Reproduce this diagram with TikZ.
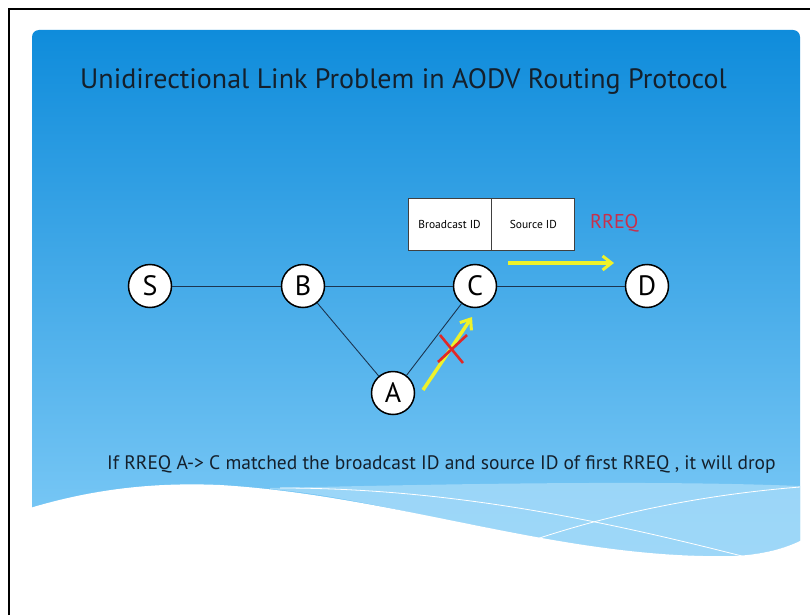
\documentclass[tikz,border=0pt]{standalone}
\usepackage{fontspec}
\setmainfont{PT Sans}
\usetikzlibrary{arrows.meta}
\definecolor{navy}{HTML}{1C3550}
\definecolor{topblue}{HTML}{0F8CDB}
\definecolor{botblue}{HTML}{84CEF8}
\definecolor{bandblue}{HTML}{A6DBF9}
\definecolor{arrowyellow}{HTML}{EEF22A}
\definecolor{xred}{HTML}{E02828}
\definecolor{rreqred}{HTML}{C8304C}
\definecolor{inktext}{HTML}{14202C}
\tikzset{
  netnode/.style={circle,draw=black,line width=1.5pt,fill=white,minimum size=43pt,inner sep=0pt,font=\fontsize{28}{28}\selectfont},
  link/.style={draw=navy,line width=0.9pt},
  fieldbox/.style={draw=black!75,line width=0.8pt,fill=white,minimum height=52pt,inner sep=0pt,font=\fontsize{11.5}{11.5}\selectfont},
  moveArrow/.style={draw=arrowyellow,line width=3.5pt,-{Straight Barb[length=9pt,width=14pt,line width=3pt]}},
  crossline/.style={draw=xred,line width=2.6pt}
}
\begin{document}
\begin{tikzpicture}[x=1pt,y=-1pt]
\useasboundingbox (0,0) rectangle (810,615);
\fill[white] (0,0) rectangle (810,615);
% slide background
\shade[top color=topblue,bottom color=botblue,rounded corners=7pt] (32,30) rectangle (800,575);
% light band
\fill[bandblue,opacity=0.8] (270,488) .. controls (450,484) and (650,480) .. (800,486) -- (800,541)
  .. controls (790,546) and (770,554) .. (735,556) .. controls (560,560) and (400,500) .. (270,489) -- cycle;
% white wave
\fill[white] (30,508) .. controls (90,490) and (150,482) .. (220,485)
  .. controls (400,496) and (560,560) .. (735,556)
  .. controls (770,554) and (790,546) .. (802,540) -- (802,615) -- (30,615) -- cycle;
% thin white lines
\draw[white,line width=0.8pt] (505,550) .. controls (600,515) and (700,495) .. (800,487);
\draw[white,line width=0.8pt] (280,488) .. controls (450,488) and (600,520) .. (742,556);
% frame
\draw[black,line width=2pt] (9,615) -- (9,9) -- (810,9);
% title
\node[font=\fontsize{28}{28}\selectfont,text=inktext,anchor=west,inner sep=0pt] (title) at (80,82) {Unidirectional Link Problem in AODV Routing Protocol};
% nodes
\node[netnode] (S) at (150,286) {S};
\node[netnode] (B) at (303,286) {B};
\node[netnode] (C) at (475,286) {C};
\node[netnode] (D) at (647,286) {D};
\node[netnode] (A) at (393,393) {A};
\draw[link] (S) -- (B);
\draw[link] (B) -- (C);
\draw[link] (C) -- (D);
\draw[link] (B) -- (A);
\draw[link] (A) -- (C);
% packet box
\node[fieldbox,minimum width=83pt] (bid) at (449.5,224) {Broadcast ID};
\node[fieldbox,minimum width=83pt,anchor=west] (sid) at (bid.east) {Source ID};
\node[text=rreqred,font=\fontsize{20}{20}\selectfont,anchor=west,inner sep=0pt] (rreq) at (590,223) {RREQ};
% arrows
\coordinate (a1s) at (508,263);
\coordinate (a1e) at (614,263);
\draw[moveArrow] (a1s) -- (a1e);
\coordinate (a2s) at (423,390);
\coordinate (a2e) at (472,317);
\draw[moveArrow] (a2s) -- (a2e);
% red cross
\coordinate (x1) at (440,335);
\coordinate (x2) at (463,363);
\coordinate (x3) at (438,362);
\coordinate (x4) at (467,335);
\draw[crossline] (x1) -- (x2);
\draw[crossline] (x3) -- (x4);
% caption
\node[font=\fontsize{19.5}{19.5}\selectfont,text=inktext,anchor=west,inner sep=0pt] (caption) at (107,465) {If RREQ A-> C matched the broadcast ID and source ID of first RREQ , it will drop};
\end{tikzpicture}
\end{document}
